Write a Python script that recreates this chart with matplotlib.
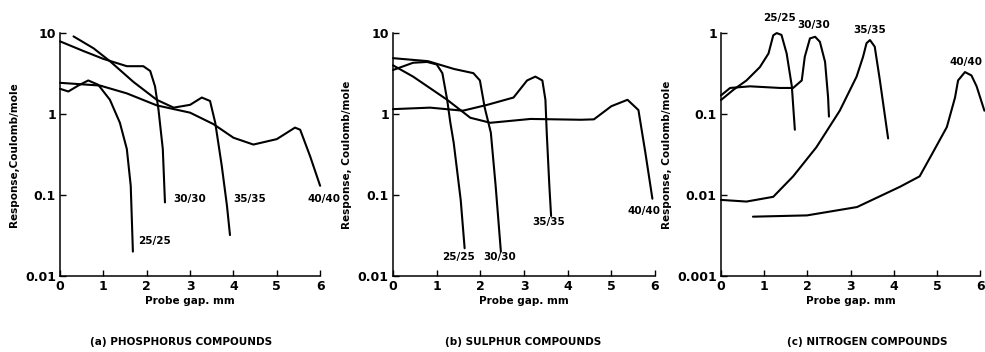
import matplotlib
matplotlib.use('Agg')
import matplotlib.pyplot as plt
from matplotlib.ticker import FixedLocator, FixedFormatter, NullLocator

plt.rcParams['font.family'] = ['Liberation Sans Narrow', 'DejaVu Sans']
plt.rcParams['font.weight'] = 'bold'

# (a) phosphorus compounds
p25_x = [0, 0.19, 0.42, 0.65, 0.88, 1.15, 1.38, 1.54, 1.63, 1.68]
p25_y = [2.05, 1.9, 2.25, 2.6, 2.3, 1.5, 0.78, 0.37, 0.13, 0.02]
p30_x = [0, 0.54, 1.0, 1.54, 1.92, 2.08, 2.19, 2.27, 2.37, 2.42]
p30_y = [7.9, 6.0, 4.8, 3.9, 3.9, 3.4, 2.2, 1.14, 0.37, 0.081]
p35_x = [0.31, 0.77, 1.15, 1.69, 2.23, 2.62, 3.0, 3.27, 3.46, 3.58, 3.73, 3.85, 3.92]
p35_y = [9.1, 6.5, 4.5, 2.5, 1.5, 1.2, 1.3, 1.6, 1.45, 0.78, 0.23, 0.074, 0.032]
p40_x = [0, 0.92, 1.54, 2.23, 3.0, 3.54, 4.0, 4.46, 5.0, 5.42, 5.54, 5.77, 6.0]
p40_y = [2.43, 2.25, 1.8, 1.28, 1.04, 0.75, 0.51, 0.42, 0.49, 0.68, 0.64, 0.30, 0.13]

# (b) sulphur compounds
s25_x = [0, 0.46, 0.78, 1.0, 1.13, 1.24, 1.31, 1.39, 1.55, 1.64]
s25_y = [3.5, 4.3, 4.4, 4.1, 3.2, 1.5, 0.8, 0.44, 0.087, 0.022]
s30_x = [0, 0.8, 1.4, 1.84, 1.99, 2.1, 2.24, 2.35, 2.47]
s30_y = [4.9, 4.5, 3.6, 3.2, 2.6, 1.2, 0.59, 0.13, 0.02]
s35_x = [0, 0.85, 1.6, 2.16, 2.76, 3.07, 3.26, 3.42, 3.49, 3.52, 3.58, 3.62]
s35_y = [1.15, 1.2, 1.1, 1.3, 1.6, 2.6, 2.9, 2.6, 1.5, 0.59, 0.13, 0.055]
s40_x = [0, 0.46, 1.24, 1.77, 2.23, 3.15, 4.3, 4.6, 5.0, 5.37, 5.62, 5.78, 5.94]
s40_y = [4.0, 2.9, 1.5, 0.9, 0.78, 0.87, 0.85, 0.86, 1.25, 1.5, 1.12, 0.33, 0.09]

# (c) nitrogen compounds
n25_x = [0, 0.29, 0.59, 0.90, 1.1, 1.21, 1.29, 1.4, 1.52, 1.64, 1.71]
n25_y = [0.149, 0.2, 0.26, 0.38, 0.56, 0.94, 1.0, 0.95, 0.56, 0.22, 0.064]
n30_x = [0, 0.21, 0.67, 1.37, 1.67, 1.87, 1.94, 2.06, 2.18, 2.29, 2.41, 2.48, 2.5]
n30_y = [0.17, 0.21, 0.22, 0.21, 0.21, 0.26, 0.51, 0.86, 0.9, 0.78, 0.44, 0.16, 0.093]
n35_x = [0, 0.59, 1.21, 1.67, 2.21, 2.75, 3.14, 3.29, 3.37, 3.45, 3.56, 3.68, 3.87]
n35_y = [0.0087, 0.0083, 0.0095, 0.017, 0.039, 0.11, 0.29, 0.51, 0.75, 0.82, 0.68, 0.26, 0.05]
n40_x = [0.74, 1.99, 3.15, 4.14, 4.6, 4.9, 5.23, 5.42, 5.49, 5.65, 5.8, 5.92, 6.1]
n40_y = [0.0054, 0.0056, 0.0071, 0.0126, 0.017, 0.033, 0.069, 0.16, 0.26, 0.33, 0.3, 0.22, 0.11]

panels = [
    dict(rect=[0.061, 0.216, 0.264, 0.690], ylim=(0.01, 10),
         yticks=[0.01, 0.1, 1, 10], ylabels=['0.01', '0.1', '1', '10'],
         ylabel='Response,Coulomb/mole', title='(a) PHOSPHORUS COMPOUNDS', title_x=181,
         curves=[(p25_x, p25_y), (p30_x, p30_y), (p35_x, p35_y), (p40_x, p40_y)],
         labels=[('25/25', 1.8, 0.027), ('30/30', 2.61, 0.09),
                 ('35/35', 4.0, 0.09), ('40/40', 5.7, 0.09)]),
    dict(rect=[0.399, 0.216, 0.266, 0.690], ylim=(0.01, 10),
         yticks=[0.01, 0.1, 1, 10], ylabels=['0.01', '0.1', '1', '10'],
         ylabel='Response, Coulomb/mole', title='(b) SULPHUR COMPOUNDS', title_x=523,
         curves=[(s25_x, s25_y), (s30_x, s30_y), (s35_x, s35_y), (s40_x, s40_y)],
         labels=[('25/25', 1.12, 0.017), ('30/30', 2.06, 0.017),
                 ('35/35', 3.18, 0.047), ('40/40', 5.38, 0.064)]),
    dict(rect=[0.732, 0.216, 0.263, 0.690], ylim=(0.001, 1),
         yticks=[0.001, 0.01, 0.1, 1], ylabels=['0.001', '0.01', '0.1', '1'],
         ylabel='Response, Coulomb/mole', title='(c) NITROGEN COMPOUNDS', title_x=867,
         curves=[(n25_x, n25_y), (n30_x, n30_y), (n35_x, n35_y), (n40_x, n40_y)],
         labels=[('25/25', 0.97, 1.53), ('30/30', 1.76, 1.26),
                 ('35/35', 3.06, 1.09), ('40/40', 5.3, 0.44)]),
]

fig = plt.figure(figsize=(9.85, 3.52), dpi=100)

for pn in panels:
    ax = fig.add_axes(pn['rect'])
    for x, y in pn['curves']:
        ax.plot(x, y, color='black', linewidth=1.5, clip_on=False,
                solid_joinstyle='round', solid_capstyle='round')
    ax.set_yscale('log')
    ax.set_xlim(0, 6)
    ax.set_ylim(*pn['ylim'])
    ax.yaxis.set_major_locator(FixedLocator(pn['yticks']))
    ax.yaxis.set_major_formatter(FixedFormatter(pn['ylabels']))
    ax.yaxis.set_minor_locator(NullLocator())
    ax.set_xticks(range(7))
    ax.tick_params(direction='in', length=4, width=1, labelsize=9, pad=3)
    for s in ('top', 'right'):
        ax.spines[s].set_visible(False)
    for s in ('left', 'bottom'):
        ax.spines[s].set_linewidth(1.1)
    ax.set_ylabel(pn['ylabel'], fontsize=7.5, fontweight='bold', labelpad=4)
    ax.set_xlabel('Probe gap. mm', fontsize=7.5, fontweight='bold', labelpad=2)
    for txt, tx, ty in pn['labels']:
        ax.text(tx, ty, txt, fontsize=7.5, fontweight='bold', ha='left', va='center',
                clip_on=False)
    fig.text(pn['title_x'] / 985, 0.028, pn['title'], fontsize=7.5,
             fontweight='bold', ha='center', va='center')

fig.savefig('out.png', dpi=100)
